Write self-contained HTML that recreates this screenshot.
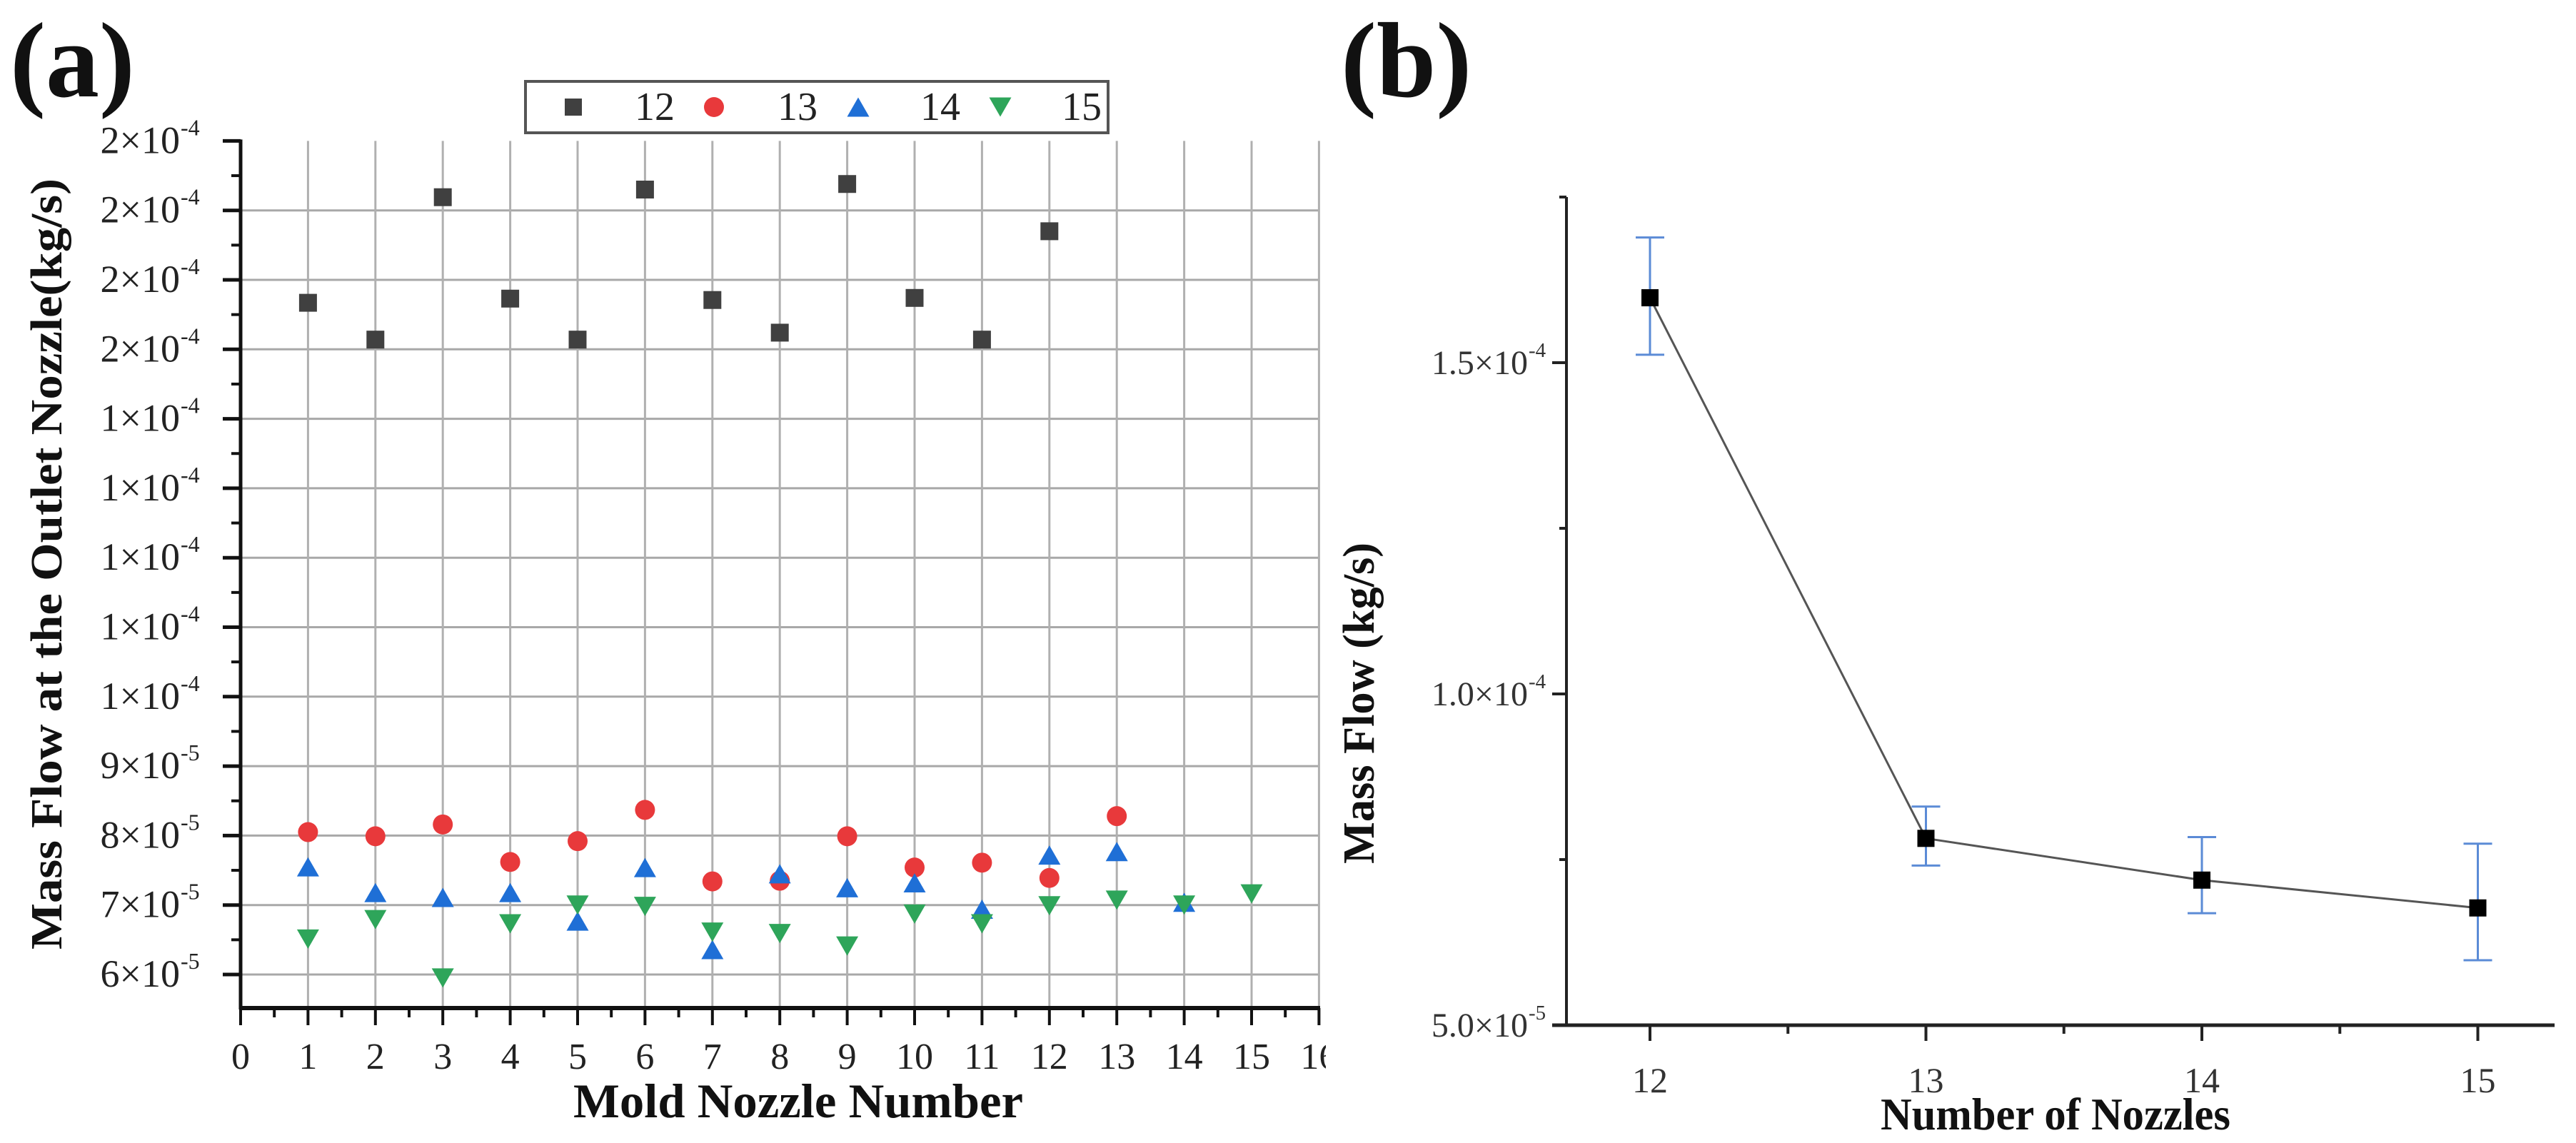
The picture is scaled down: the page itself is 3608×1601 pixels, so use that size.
<!DOCTYPE html>
<html><head><meta charset="utf-8"><style>
html,body{margin:0;padding:0;background:#fff;}
svg{display:block;}
svg text{font-family:"Liberation Serif","DejaVu Serif",serif;}
</style></head><body>
<svg id="fig" width="3608" height="1601" viewBox="0 0 3608 1601" xmlns="http://www.w3.org/2000/svg" font-family="Liberation Serif, serif">
<rect width="3608" height="1601" fill="#fff"/>
<g id="chartA"></g>
<g id="chartB"></g>
</svg>
<script>
// ---- Chart (a) data ----
const aNozzles = [1,2,3,4,5,6,7,8,9,10,11,12,13,14,15];
const s12 = [15.67,15.14,17.19,15.73,15.14,17.30,15.71,15.24,17.38,15.74,15.14,16.70]; // x1e-5
const s13 = [8.05,7.99,8.16,7.62,7.92,8.37,7.34,7.35,7.99,7.54,7.61,7.39,8.28];
const s14 = [7.55,7.18,7.11,7.18,6.77,7.54,6.36,7.45,7.25,7.32,6.94,7.72,7.77,7.04];
const s15 = [6.51,6.79,5.95,6.73,7.00,6.98,6.61,6.59,6.41,6.87,6.73,6.99,7.07,7.00,7.16];
const aYTicks = [6,7,8,9,10,11,12,13,14,15,16,17,18];
const aYLabels = ["6","7","8","9","1","1","1","1","1","2","2","2","2"];
const aYExp = ["-5","-5","-5","-5","-4","-4","-4","-4","-4","-4","-4","-4","-4"];
const aXTicks = [0,1,2,3,4,5,6,7,8,9,10,11,12,13,14,15,16];
// ---- Chart (b) data ----
const bCats = [12,13,14,15];
const bMean = [15.98,7.82,7.19,6.77]; // x1e-5
const bHigh = [16.89,8.30,7.84,7.74];
const bLow = [15.12,7.41,6.69,5.98];
const bYTicks = [5,10,15];
const bYLabels = ["5.0","1.0","1.5"];
const bYExp = ["-5","-4","-4"];

const NS="http://www.w3.org/2000/svg";
const SERIF="Liberation Serif, serif";
function mk(parent,tag,attrs){const e=document.createElementNS(NS,tag);for(const k in attrs)e.setAttribute(k,attrs[k]);if(tag==='text')e.setAttribute('font-family',SERIF);parent.appendChild(e);return e;}

// ===== Chart A =====
const A=document.getElementById('chartA');
const axL=337, axR=1847, axB=1412, xStep=94.4;
const xA=n=>axL+n*xStep;
const yA=v=>1365-(v-6)*97.3;
aYTicks.forEach((v,i)=>{ if(v<18){const g=mk(A,'line',{x1:axL,x2:axR,y1:yA(v),y2:yA(v),stroke:'#a8a8a8','stroke-width':3});

}});
aXTicks.forEach(n=>{ if(n>0){const g=mk(A,'line',{x1:xA(n),x2:xA(n),y1:yA(18),y2:axB,stroke:'#b0b0b0','stroke-width':3});

}});
let e=mk(A,'line',{x1:axL,x2:axL,y1:yA(18)-2,y2:axB+2,stroke:'#111','stroke-width':5});


e=mk(A,'line',{x1:axL-2,x2:axR+2,y1:axB,y2:axB,stroke:'#111','stroke-width':6});


aYTicks.forEach((v,i)=>{
  mk(A,'line',{x1:axL-25,x2:axL,y1:yA(v),y2:yA(v),stroke:'#111','stroke-width':5});
  if(v>6) mk(A,'line',{x1:axL-13,x2:axL,y1:yA(v-0.5),y2:yA(v-0.5),stroke:'#111','stroke-width':4});
  const t=mk(A,'text',{x:252,y:yA(v)+17,'text-anchor':'end','font-size':54,fill:'#222'});
  
  
  t.textContent=aYLabels[i]+"×10";
  const s=mk(A,'text',{x:253,y:yA(v)-8,'font-size':32,fill:'#222'});
  s.textContent=aYExp[i];
});
aXTicks.forEach(n=>{
  mk(A,'line',{x1:xA(n),x2:xA(n),y1:axB,y2:axB+24,stroke:'#111','stroke-width':4});
  if(n<16) mk(A,'line',{x1:xA(n+0.5),x2:xA(n+0.5),y1:axB,y2:axB+13,stroke:'#111','stroke-width':4});
  const t=mk(A,'text',{x:xA(n),y:1497,'text-anchor':'middle','font-size':52,fill:'#222'});
  
  
  t.textContent=n;
});
function sq(g,x,y,c,sz){return mk(g,'rect',{x:x-sz/2,y:y-sz/2,width:sz,height:sz,fill:c});}
function tri(g,x,y,c,sz,down){const h=sz*0.87;const p=down?`${x-sz/2},${y-h/2} ${x+sz/2},${y-h/2} ${x},${y+h/2}`:`${x-sz/2},${y+h/2} ${x+sz/2},${y+h/2} ${x},${y-h/2}`;return mk(g,'polygon',{points:p,fill:c});}
const g12=mk(A,'g',{});
s12.forEach((v,i)=>{const m=sq(g12,xA(aNozzles[i]),yA(v),'#404040',25);

});
const g13=mk(A,'g',{});
s13.forEach((v,i)=>{const m=mk(g13,'circle',{cx:xA(aNozzles[i]),cy:yA(v),r:14,fill:'#e8393b'});

});
const g14=mk(A,'g',{});
s14.forEach((v,i)=>{const m=tri(g14,xA(aNozzles[i]),yA(v),'#1f6fd6',31,false);

});
const g15=mk(A,'g',{});
s15.forEach((v,i)=>{const m=tri(g15,xA(aNozzles[i]),yA(v),'#2ea55a',31,true);

});
mk(A,'rect',{x:1857,y:1420,width:100,height:100,fill:'#fff'});
const lg=mk(A,'g',{});
mk(lg,'rect',{x:736,y:114,width:816,height:72,fill:'#fff',stroke:'#555','stroke-width':4});
const legX=[803,1000,1202,1401], legT=[917,1117,1317,1515], legL=["12","13","14","15"];
sq(lg,legX[0],150,'#404040',24);
mk(lg,'circle',{cx:legX[1],cy:150,r:14,fill:'#e8393b'});
tri(lg,legX[2],150,'#1f6fd6',31,false);
tri(lg,legX[3],150,'#2ea55a',31,true);
legL.forEach((l,i)=>{const t=mk(lg,'text',{x:legT[i],y:168,'text-anchor':'middle','font-size':56,fill:'#222'});


t.textContent=l;});
e=mk(A,'text',{x:0,y:0,transform:'translate(86,790) rotate(-90)','text-anchor':'middle','font-size':62,'font-weight':'bold',fill:'#111',textLength:1080,lengthAdjust:'spacingAndGlyphs'});


e.textContent="Mass Flow at the Outlet Nozzle(kg/s)";
e=mk(A,'text',{x:1118,y:1565,'text-anchor':'middle','font-size':68,'font-weight':'bold',fill:'#111',textLength:630,lengthAdjust:'spacingAndGlyphs'});


e.textContent="Mold Nozzle Number";
e=mk(A,'text',{x:14,y:135,'font-size':150,'font-weight':'bold',fill:'#111'});


e.textContent="(a)";

// ===== Chart B =====
const B=document.getElementById('chartB');
const bL=2194,bR=3578,bB=1436;
const xB=c=>2311+(c-12)*386.5;
const yB=v=>1436-(v-5)*92.8;
e=mk(B,'line',{x1:bL,x2:bL,y1:yB(17.5),y2:bB+2,stroke:'#222','stroke-width':4});


e=mk(B,'line',{x1:bL-20,x2:bR,y1:bB,y2:bB,stroke:'#222','stroke-width':5});


bYTicks.forEach((v,i)=>{
  mk(B,'line',{x1:bL-20,x2:bL,y1:yB(v),y2:yB(v),stroke:'#222','stroke-width':4});
  mk(B,'line',{x1:bL-10,x2:bL,y1:yB(v+2.5),y2:yB(v+2.5),stroke:'#222','stroke-width':4});
  const t=mk(B,'text',{x:2140,y:yB(v)+16,'text-anchor':'end','font-size':48,fill:'#333'});
  
  
  t.textContent=bYLabels[i]+"×10";
  const s=mk(B,'text',{x:2141,y:yB(v)-8,'font-size':29,fill:'#333'});
  s.textContent=bYExp[i];
});
bCats.forEach(c=>{
  mk(B,'line',{x1:xB(c),x2:xB(c),y1:bB,y2:bB+22,stroke:'#222','stroke-width':4});
  if(c<15) mk(B,'line',{x1:xB(c+0.5),x2:xB(c+0.5),y1:bB,y2:bB+12,stroke:'#222','stroke-width':4});
  const t=mk(B,'text',{x:xB(c),y:1530,'text-anchor':'middle','font-size':50,fill:'#333'});
  
  
  t.textContent=c;
});
const line=mk(B,'polyline',{points:bCats.map((c,i)=>xB(c)+','+yB(bMean[i])).join(' '),fill:'none',stroke:'#555','stroke-width':3});


bCats.forEach((c,i)=>{
  const g=mk(B,'g',{stroke:'#5b8bd6','stroke-width':3});
  
  
  const x=xB(c);
  mk(g,'line',{x1:x,x2:x,y1:yB(bHigh[i]),y2:yB(bLow[i])});
  mk(g,'line',{x1:x-20,x2:x+20,y1:yB(bHigh[i]),y2:yB(bHigh[i])});
  mk(g,'line',{x1:x-20,x2:x+20,y1:yB(bLow[i]),y2:yB(bLow[i])});
  const m=sq(B,x,yB(bMean[i]),'#000',24);
  
  
});
e=mk(B,'text',{x:0,y:0,transform:'translate(1924,985) rotate(-90)','text-anchor':'middle','font-size':62,'font-weight':'bold',fill:'#111',textLength:450,lengthAdjust:'spacingAndGlyphs'});


e.textContent="Mass Flow (kg/s)";
e=mk(B,'text',{x:2879,y:1582,'text-anchor':'middle','font-size':64,'font-weight':'bold',fill:'#111',textLength:490,lengthAdjust:'spacingAndGlyphs'});


e.textContent="Number of Nozzles";
e=mk(B,'text',{x:1878,y:135,'font-size':150,'font-weight':'bold',fill:'#111'});


e.textContent="(b)";
</script>
</body></html>
